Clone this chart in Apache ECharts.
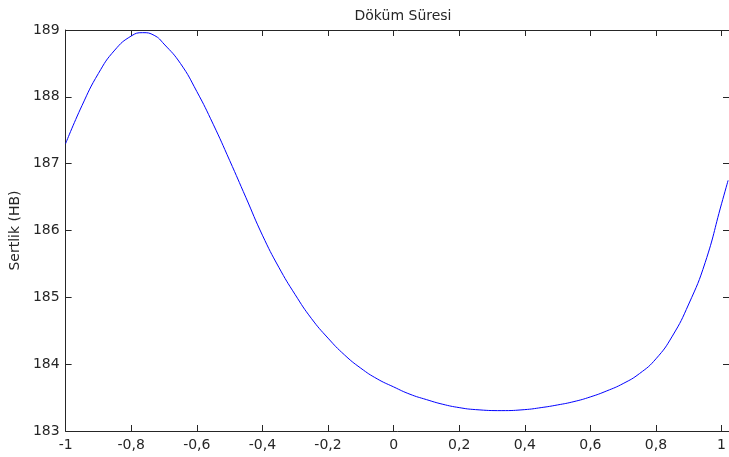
<!DOCTYPE html>
<html>
<head>
<meta charset="utf-8">
<script src="https://cdn.jsdelivr.net/npm/echarts@6/dist/echarts.min.js"></script>
<style>
  html, body { margin: 0; padding: 0; background: #fff; }
  #chart { width: 729px; height: 457px; }
</style>
</head>
<body>
<div id="chart"></div>
<script>
// Hardness (HB) response over the coded casting-time factor
const titleText = 'Döküm Süresi';
const yAxisName = 'Sertlik (HB)';

const xValues = [
  -1.00, -0.95, -0.90, -0.85, -0.80, -0.765, -0.73, -0.70, -0.65, -0.60, -0.55,
  -0.50, -0.45, -0.40, -0.35, -0.30, -0.25, -0.20, -0.15, -0.10, -0.05,
   0.00,  0.05,  0.10,  0.15,  0.20,  0.25,  0.33,  0.40,  0.45,
   0.50,  0.55,  0.60,  0.65,  0.70,  0.75,  0.80,  0.85,  0.90,  0.95,
   1.00,  1.02
];
const hardness = [
  187.30, 187.87, 188.35, 188.70, 188.91, 188.96, 188.92, 188.79, 188.50, 188.08, 187.59,
  187.05, 186.49, 185.93, 185.45, 185.04, 184.68, 184.39, 184.14, 183.94, 183.78,
  183.66, 183.55, 183.47, 183.40, 183.35, 183.32, 183.305, 183.32, 183.35,
  183.39, 183.44, 183.51, 183.60, 183.71, 183.86, 184.08, 184.42, 184.90, 185.52,
  186.40, 186.75
];

const xMin = -1, xMax = 1.0227, xStep = 0.2;
const yMin = 183, yMax = 189, yStep = 1;

const ink = '#262626';
const fontFamily = '"DejaVu Sans", sans-serif';

const fmtComma = v => {
  const r = Math.round(v * 10) / 10;
  return String(r).replace('.', ',');
};

const chart = echarts.init(document.getElementById('chart'), null, { renderer: 'canvas' });

// box-style frame: every side drawn at the plot edge with inward ticks
const frameAxis = () => ({
  axisLine: { show: true, onZero: false, lineStyle: { color: ink, width: 1 } },
  axisTick: { show: true, inside: true, length: 6, lineStyle: { color: ink, width: 1 } },
  splitLine: { show: false }
});

chart.setOption({
  animation: false,
  backgroundColor: '#ffffff',
  title: {
    text: titleText,
    left: 398,
    top: 4,
    textAlign: 'center',
    textStyle: { fontFamily, fontSize: 14, fontWeight: 'normal', color: ink }
  },
  grid: { left: 63, right: -1, top: 30, bottom: 26, containLabel: false },
  xAxis: [
    Object.assign({
      type: 'value', position: 'bottom', min: xMin, max: xMax, interval: xStep,
      axisLabel: {
        show: true, margin: 7, color: ink, fontFamily, fontSize: 14,
        showMaxLabel: false, formatter: fmtComma
      }
    }, frameAxis()),
    Object.assign({
      type: 'value', position: 'top', min: xMin, max: xMax, interval: xStep,
      axisLabel: { show: false }
    }, frameAxis())
  ],
  yAxis: [
    Object.assign({
      type: 'value', position: 'left', min: yMin, max: yMax, interval: yStep,
      name: yAxisName, nameLocation: 'middle', nameGap: 40, nameRotate: 90,
      nameTextStyle: { fontFamily, fontSize: 14, color: ink },
      axisLabel: { show: true, margin: 6, color: ink, fontFamily, fontSize: 14 }
    }, frameAxis()),
    Object.assign({
      type: 'value', position: 'right', min: yMin, max: yMax, interval: yStep,
      axisLabel: { show: false }
    }, frameAxis())
  ],
  series: [{
    type: 'line',
    xAxisIndex: 0,
    yAxisIndex: 0,
    data: xValues.map((x, i) => [x, hardness[i]]),
    showSymbol: false,
    symbol: 'none',
    smooth: 0.5,
    lineStyle: { color: '#0000ff', width: 1 },
    clip: true
  }]
});
</script>
</body>
</html>
